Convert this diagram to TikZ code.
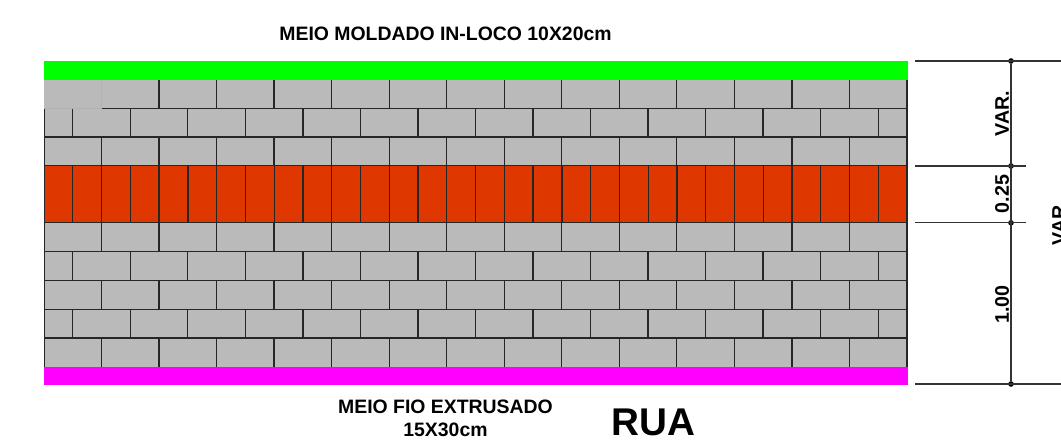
\documentclass[tikz,border=0pt]{standalone}
\usepackage{fontspec}
\setmainfont{Liberation Sans}
\definecolor{paver}{HTML}{BABABA}
\definecolor{redpaver}{HTML}{DE3700}
\definecolor{dimgrey}{HTML}{333333}
\definecolor{curbtop}{HTML}{00FF00}
\definecolor{curbrua}{HTML}{FF00FF}
\tikzset{
  joint/.style={black!85,line width=0.75pt},
  softjoint/.style={black!30,line width=0.4pt},
  dimline/.style={dimgrey,line width=0.75pt},
  dimdot/.style={circle,fill=black,inner sep=0pt,minimum size=3.2pt},
  dimtext/.style={rotate=90,inner sep=0pt,font=\fontsize{11.2}{12}\selectfont\bfseries},
  title/.style={inner sep=0pt,align=center,font=\fontsize{11.05}{13}\selectfont\bfseries}
}

\begin{document}
\begin{tikzpicture}[x=0.02cm,y=-0.02cm]
  \useasboundingbox (0,0) rectangle (1061,442);
  \clip (0,0) rectangle (1061,442);

  % pavers and curbs
  \fill[paver] (44,80) rectangle (907,366.5);
  \fill[redpaver] (44,165.5) rectangle (907,222.8);
  \fill[curbtop] (44,61) rectangle (907.5,80);
  \fill[curbrua] (44,366.5) rectangle (907.5,385);

  % rows starting with a full paver
  \foreach \top/\bottom in {80/108.5,137/165.5,222.8/251.5,280.5/309.5,338/366.5}
    \foreach \k in {1,...,14}
      \draw[joint] (44+57.53*\k,\top) -- (44+57.53*\k,\bottom);
  % rows starting with half a paver
  \foreach \top/\bottom in {108.5/137,251.5/280.5,309.5/338}
    \foreach \k in {0,...,14}
      \draw[joint] (72.77+57.53*\k,\top) -- (72.77+57.53*\k,\bottom);
  % red row
  \foreach \k in {1,...,29}
    \draw[joint] (44+28.77*\k,165.5) -- (44+28.77*\k,222.8);
  % horizontal joints
  \foreach \y in {137,165.5,222.8,251.5,280.5,309.5,338}
    \draw[joint] (44,\y) -- (907,\y);
  \draw[joint] (101.5,108.5) -- (907,108.5);
  \draw[joint] (44.5,108.5) -- (44.5,366.5);
  \draw[joint] (907,80) -- (907,366.5);
  % first paver
  \fill[paver] (44,80) rectangle (101.2,108.2);
  \draw[softjoint] (44,108.5) -- (101.5,108.5) -- (101.5,80);

  % dimensions
  \coordinate (extA) at (915,61);
  \coordinate (extB) at (915,166);
  \coordinate (extC) at (915,222.8);
  \coordinate (extD) at (915,384);
  \node[dimdot] (dimA) at (1011,61) {};
  \node[dimdot] (dimB) at (1011,166) {};
  \node[dimdot] (dimC) at (1011,222.8) {};
  \node[dimdot] (dimD) at (1011,384) {};
  \coordinate (endA) at (1061,61);
  \coordinate (endB) at (1026,166);
  \coordinate (endC) at (1026,222.8);
  \coordinate (endD) at (1061,384);
  \draw[dimline] (dimA) -- (dimD);
  \draw[dimline] (extA) -- (endA);
  \draw[dimline] (extB) -- (endB);
  \draw[dimline] (extC) -- (endC);
  \draw[dimline] (extD) -- (endD);
  \node[dimtext] (var) at (1002,113.5) {VAR.};
  \node[dimtext] (small) at (1002,194) {0.25};
  \node[dimtext] (big) at (1002,304.5) {1.00};
  \node[dimtext] (total) at (1059,222.5) {VAR.};

  % labels
  \node[title] (curb) at (445.5,33.5) {MEIO MOLDADO IN-LOCO 10X20cm};
  \node[title] (fio) at (445.5,418) {MEIO FIO EXTRUSADO\\15X30cm};
  \node[inner sep=0pt,font=\fontsize{22}{24}\selectfont\bfseries] (rua) at (653.5,422) {RUA};
\end{tikzpicture}
\end{document}
